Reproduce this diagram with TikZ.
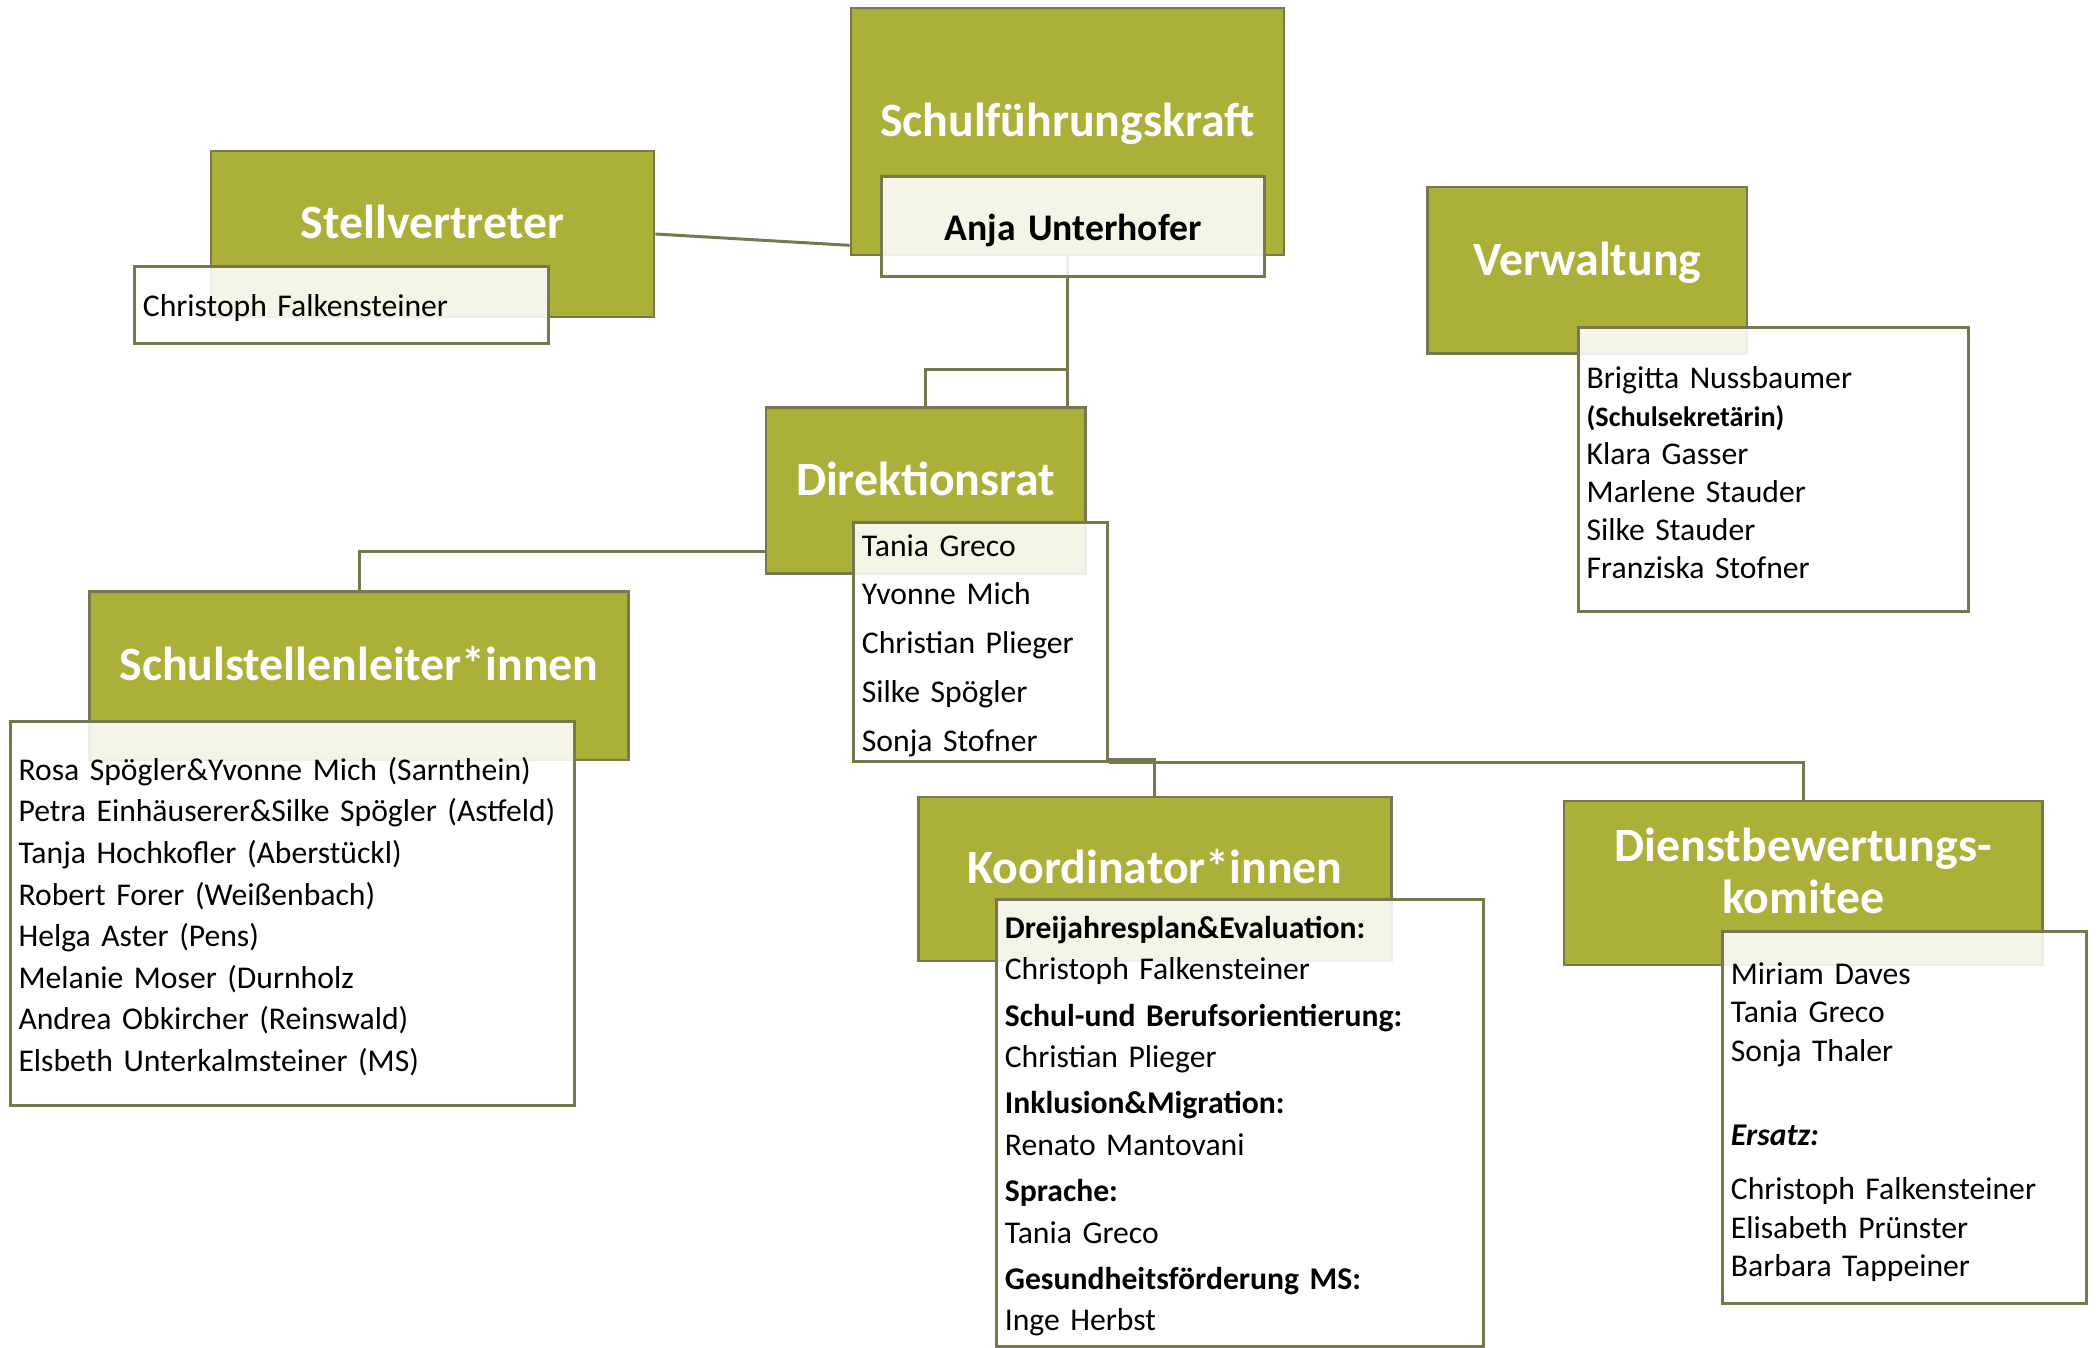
\documentclass[tikz,border=0pt]{standalone}
\usepackage{fontspec}
\setmainfont{Carlito}
\definecolor{olivefill}{HTML}{ACAF38}
\definecolor{olivedraw}{HTML}{77784E}
\pgfdeclarelayer{bg}
\pgfsetlayers{bg,main}

\begin{document}
\begin{tikzpicture}[x=0.01cm, y=-0.01cm,
headnode/.style={draw=olivedraw, line width=0.025cm, fill=olivefill, text=white, inner sep=0pt, font=\fontsize{13.6pt}{14.8pt}\selectfont\bfseries, text height=0.334cm, text depth=0.235cm},
listnode/.style={draw=olivedraw, line width=0.03cm, fill=white, fill opacity=0.88, text opacity=1, inner xsep=0.08cm, inner ysep=0pt, align=left, font=\fontsize{9pt}{11pt}\selectfont, execute at begin node={\rule{0pt}{0.9em}}},
link/.style={draw=olivedraw, line width=0.03cm}
]
    \useasboundingbox (0,0) rectangle (2096,1347);

    \node [headnode, minimum width=4.33cm, minimum height=2.47cm] (sfk) at (1067.5,131.5) {Schulführungskraft};
    \node [headnode, minimum width=4.43cm, minimum height=1.66cm] (stv) at (432.5,234) {Stellvertreter};
    \node [headnode, minimum width=3.19cm, minimum height=1.66cm] (verw) at (1587.3,270.2) {Verwaltung};
    \node [headnode, minimum width=3.19cm, minimum height=1.66cm] (dir) at (925.7,490.6) {Direktionsrat};
    \node [headnode, minimum width=5.39cm, minimum height=1.68cm] (schul) at (359,675.7) {Schulstellenleiter*innen};
    \node [headnode, minimum width=4.73cm, minimum height=1.64cm] (koord) at (1154.9,879) {Koordinator*innen};
    \node [headnode, minimum width=4.78cm, minimum height=1.64cm, align=center, text height=0.854cm] (dienst) at (1803.2,883) {Dienstbewertungs-\\komitee};

    \node [listnode, align=center, text width=3.66cm, minimum height=1.0cm, font=\fontsize{10.7pt}{12.8pt}\selectfont\bfseries] (anja) at (1073,226.6) {Anja Unterhofer};
    \node [listnode, text width=3.97cm, minimum height=0.775cm] (stvm) at (341.5,305) {Christoph Falkensteiner};
    \node [listnode, text width=3.74cm, minimum height=2.835cm, font=\fontsize{9pt}{10.8pt}\selectfont, execute at begin node={}] (verwm) at (1773.8,469.2) {Brigitta Nussbaumer\\{\fontsize{8pt}{10.8pt}\selectfont\bfseries (Schulsekretärin)}\\Klara Gasser\\Marlene Stauder\\Silke Stauder\\Franziska Stofner};
    \node [listnode, text width=2.37cm, minimum height=2.38cm, font=\fontsize{9pt}{13.86pt}\selectfont] (dirm) at (980.5,642) {Tania Greco\\Yvonne Mich\\Christian Plieger\\Silke Spögler\\Sonja Stofner};
    \node [listnode, text width=5.48cm, minimum height=3.835cm, font=\fontsize{9pt}{11.84pt}\selectfont] (schulm) at (292.7,913.8) {Rosa Spögler\&Yvonne Mich (Sarnthein)\\Petra Einhäuserer\&Silke Spögler (Astfeld)\\Tanja Hochkofler (Aberstückl)\\Robert Forer (Weißenbach)\\Helga Aster (Pens)\\Melanie Moser (Durnholz\\Andrea Obkircher (Reinswald)\\Elsbeth Unterkalmsteiner (MS)};
    \node [listnode, text width=4.70cm, minimum height=4.46cm, font=\fontsize{9pt}{11.77pt}\selectfont] (koordm) at (1240,1123) {\textbf{Dreijahresplan\&Evaluation:}\\Christoph Falkensteiner\\[0.05cm]\textbf{Schul-und Berufsorientierung:}\\Christian Plieger\\[0.05cm]\textbf{Inklusion\&Migration:}\\Renato Mantovani\\[0.05cm]\textbf{Sprache:}\\Tania Greco\\[0.05cm]\textbf{Gesundheitsförderung MS:}\\Inge Herbst};
    \node [listnode, text width=3.476cm, minimum height=3.716cm, font=\fontsize{9pt}{11.03pt}\selectfont, execute at begin node={\rule{0pt}{0.98em}}] (dienstm) at (1904.8,1117.5) {Miriam Daves\\Tania Greco\\Sonja Thaler\\[0.455cm]\textbf{\textit{Ersatz:}}\\[0.146cm]Christoph Falkensteiner\\Elisabeth Prünster\\Barbara Tappeiner};

    \begin{pgfonlayer}{bg}
    \draw [link] (stv.east) -- ([shift={(0,-11)}]sfk.south west);
    \draw [link] (sfk.south) -- (sfk.south |- dir.north);
    \draw [link] (sfk.south) -- ++(0,113) -| (dir.north);
    \draw [link] ([shift={(0,61)}]dir.west) -| (schul.north);
    \draw [link] ([shift={(0,-3)}]dirm.south east) -| (koord.north);
    \draw [link] (dirm.south east) -| (dienst.north);
    \end{pgfonlayer}

\end{tikzpicture}
\end{document}
